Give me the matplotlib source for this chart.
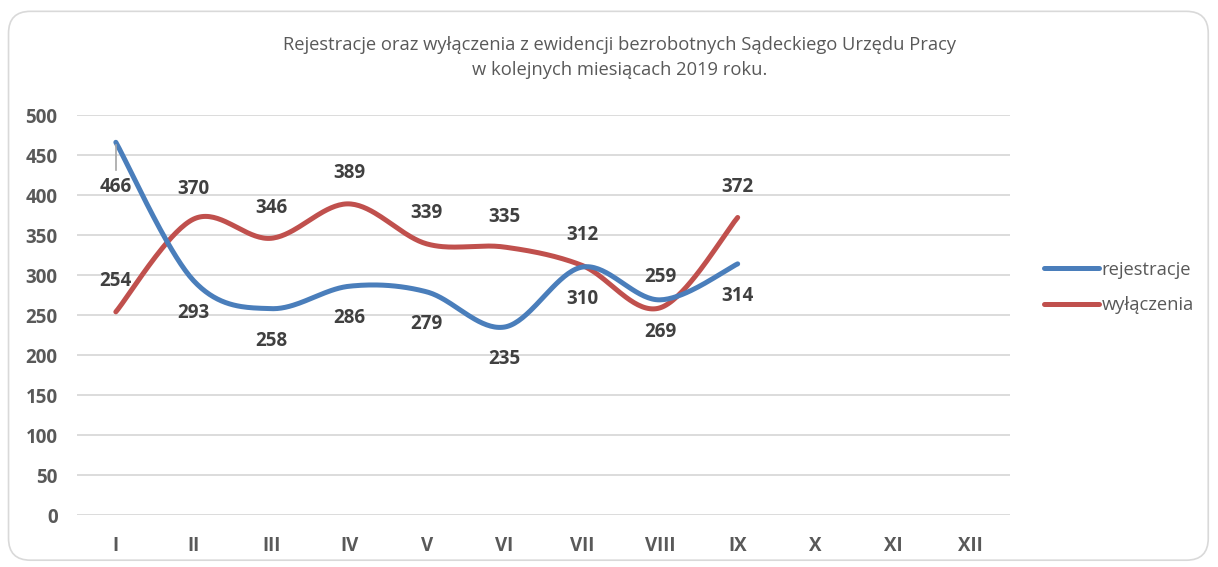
import numpy as np
import matplotlib.pyplot as plt
from matplotlib.patches import FancyBboxPatch
from matplotlib.lines import Line2D

months = ["I", "II", "III", "IV", "V", "VI", "VII", "VIII", "IX", "X", "XI", "XII"]
rejestracje = [466, 293, 258, 286, 279, 235, 310, 269, 314]
wylaczenia = [254, 370, 346, 389, 339, 335, 312, 259, 372]

BLUE = "#4a7ebb"
RED = "#c0504d"
TXT = "#595959"
LBL = "#404040"

plt.rcParams["font.family"] = ["Open Sans", "DejaVu Sans"]


def smooth(x, y, n=40):
    # Excel-like smoothed line: cubic Bezier segments with Catmull-Rom control points
    x = np.asarray(x, float)
    y = np.asarray(y, float)
    px = np.concatenate([[x[0]], x, [x[-1]]])
    py = np.concatenate([[y[0]], y, [y[-1]]])
    xs, ys = [], []
    t = np.linspace(0, 1, n)
    for i in range(len(x) - 1):
        p0 = np.array([px[i + 1], py[i + 1]])
        p3 = np.array([px[i + 2], py[i + 2]])
        c1 = p0 + (np.array([px[i + 2], py[i + 2]]) - np.array([px[i], py[i]])) / 6
        c2 = p3 - (np.array([px[i + 3], py[i + 3]]) - np.array([px[i + 1], py[i + 1]])) / 6
        b = ((1 - t) ** 3)[:, None] * p0 + (3 * (1 - t) ** 2 * t)[:, None] * c1 \
            + (3 * (1 - t) * t ** 2)[:, None] * c2 + (t ** 3)[:, None] * p3
        xs.append(b[:, 0])
        ys.append(b[:, 1])
    return np.concatenate(xs), np.concatenate(ys)


fig = plt.figure(figsize=(12.18, 5.67), dpi=100)
fig.patches.append(FancyBboxPatch((0.007, 0.012), 0.985, 0.968,
                                  boxstyle="round,pad=0,rounding_size=0.018",
                                  transform=fig.transFigure, facecolor="none",
                                  edgecolor="#d9d9d9", lw=1.2, mutation_aspect=2.15,
                                  zorder=-1))

ax = fig.add_axes([0.0632, 0.0917, 0.7658, 0.7053])
ax.set_facecolor("none")

xpos = np.arange(len(rejestracje)) + 0.5
for vals, col in [(wylaczenia, RED), (rejestracje, BLUE)]:
    sx, sy = smooth(xpos, vals)
    ax.plot(sx, sy, color=col, lw=3.6, solid_capstyle="round", zorder=3)

# data labels: blue below, red above
LFS = 13.5
for i, v in enumerate(rejestracje):
    if i == 0:
        ax.annotate(str(v), (xpos[i], v), xytext=(0, -32), textcoords="offset points",
                    ha="center", va="center", fontsize=LFS, fontweight="bold", color=LBL)
        ax.plot([xpos[i], xpos[i]], [v - 3, v - 35], color="#a6a6a6", lw=1.2, zorder=4)
    else:
        ax.annotate(str(v), (xpos[i], v), xytext=(0, -23), textcoords="offset points",
                    ha="center", va="center", fontsize=LFS, fontweight="bold", color=LBL)
for i, v in enumerate(wylaczenia):
    ax.annotate(str(v), (xpos[i], v), xytext=(0, 22), textcoords="offset points",
                ha="center", va="center", fontsize=LFS, fontweight="bold", color=LBL)

ax.set_xlim(0, 12)
ax.set_ylim(0, 500)
ax.set_yticks(np.arange(0, 501, 50))
ax.set_xticks(np.arange(12) + 0.5)
ax.set_xticklabels(months)
ax.grid(axis="y", color="#d9d9d9", lw=1.3)
ax.set_axisbelow(True)
for s in ax.spines.values():
    s.set_visible(False)
ax.tick_params(length=0, labelsize=13.5, labelcolor=TXT)
ax.tick_params(axis="x", pad=15)
ax.tick_params(axis="y", pad=14)
for lab in ax.get_xticklabels() + ax.get_yticklabels():
    lab.set_fontweight("bold")

fig.text(0.509, 0.921, "Rejestracje oraz wyłączenia z ewidencji bezrobotnych Sądeckiego Urzędu Pracy",
         ha="center", va="center", fontsize=13.2, color=TXT)
fig.text(0.509, 0.877, "w kolejnych miesiącach 2019 roku.",
         ha="center", va="center", fontsize=13.2, color=TXT)

handles = [Line2D([], [], color=BLUE, lw=3.6, solid_capstyle="round"),
           Line2D([], [], color=RED, lw=3.6, solid_capstyle="round")]
fig.legend(handles, ["rejestracje", "wyłączenia"], loc="center left",
           bbox_to_anchor=(0.844, 0.493), frameon=False, fontsize=13.2,
           labelcolor=TXT, handlelength=3.0, handletextpad=0.1, labelspacing=0.95)

fig.savefig("out.png", dpi=100)
